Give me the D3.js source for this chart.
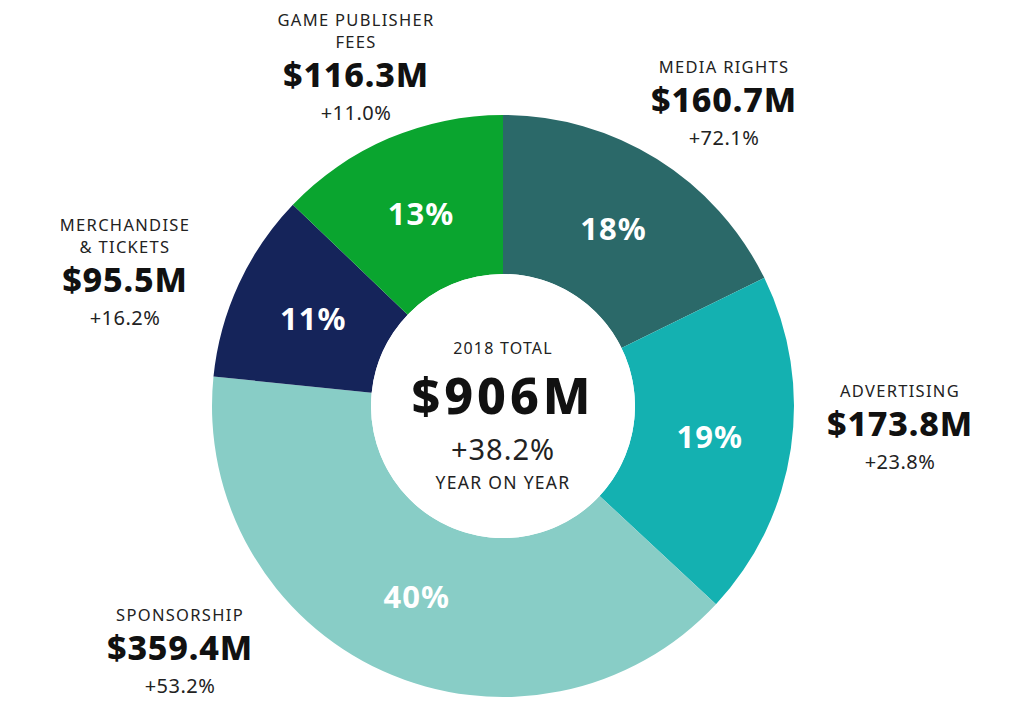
<!DOCTYPE html>
<html><head><meta charset="utf-8">
<script src="https://cdn.jsdelivr.net/npm/d3@7"></script>
<style>
html,body{margin:0;padding:0;background:#fff;}
svg{display:block;font-family:"Noto Sans",sans-serif;}
</style></head>
<body><svg id="c" width="1024" height="722"></svg>
<script>
const categories = ["MEDIA RIGHTS","ADVERTISING","SPONSORSHIP","MERCHANDISE\n& TICKETS","GAME PUBLISHER\nFEES"];
const values = [160.7, 173.8, 359.4, 95.5, 116.3];
const growth = ["+72.1%","+23.8%","+53.2%","+16.2%","+11.0%"];
const totalLabel = "$906M";
const totalGrowth = "+38.2%";
const colors = ["#2b6969","#14b1b1","#88cdc6","#15245a","#0aa52f"];
// label anchor (center x, baseline of value line) - layout only
const labelAnchor = [[724,112],[900,436],[180,660],[125,292],[356,87]];

const svg = d3.select("#c");
const cx = 503, cy = 406, R = 291, r0 = 132;
const total = d3.sum(values);
const pie = d3.pie().sort(null).value(d=>d)(values);
const arc = d3.arc().innerRadius(r0).outerRadius(R);
const labelArc = d3.arc().innerRadius(209).outerRadius(209);
const g = svg.append("g").attr("transform",`translate(${cx},${cy})`);
g.selectAll("path.slice").data(pie).join("path").attr("class","slice")
  .attr("d",arc).attr("fill",(d,i)=>colors[i]);
g.append("circle").attr("r",r0).attr("fill","#fff");
g.selectAll("text.pct").data(pie).join("text").attr("class","pct")
  .attr("transform",d=>{const c=labelArc.centroid(d);return `translate(${c[0]},${c[1]})`;})
  .attr("text-anchor","middle").attr("dy","0.36em")
  .attr("fill","#fff").attr("font-weight",700).attr("font-size",31).attr("letter-spacing",1)
  .text(d=>Math.round(d.value/total*100)+"%");

// outside labels
categories.forEach((cat,i)=>{
  const [x,y]=labelAnchor[i];
  const lines = cat.split("\n");
  const lg = svg.append("g").attr("text-anchor","middle").attr("fill","#222");
  lines.forEach((ln,j)=>{
    lg.append("text").attr("x",x).attr("y",y-39-(lines.length-1-j)*22)
      .attr("font-size",16.5).attr("letter-spacing",1.3).text(ln);
  });
  lg.append("text").attr("x",x).attr("y",y).attr("font-size",34).attr("font-weight",800)
    .attr("letter-spacing",0.8).attr("fill","#111").text("$"+values[i].toFixed(1)+"M");
  lg.append("text").attr("x",x).attr("y",y+33).attr("font-size",20).attr("letter-spacing",0.5).text(growth[i]);
});

// center
const cg = g.append("g").attr("text-anchor","middle").attr("fill","#222");
cg.append("text").attr("y",354-cy).attr("font-size",16).attr("letter-spacing",1.2).text("2018 TOTAL");
cg.append("text").attr("y",414-cy).attr("font-size",50).attr("font-weight",800).attr("letter-spacing",4).attr("fill","#111").text(totalLabel);
cg.append("text").attr("y",460-cy).attr("font-size",29).attr("letter-spacing",1).text(totalGrowth);
cg.append("text").attr("y",489-cy).attr("font-size",17.5).attr("letter-spacing",1.3).text("YEAR ON YEAR");
</script></body></html>
